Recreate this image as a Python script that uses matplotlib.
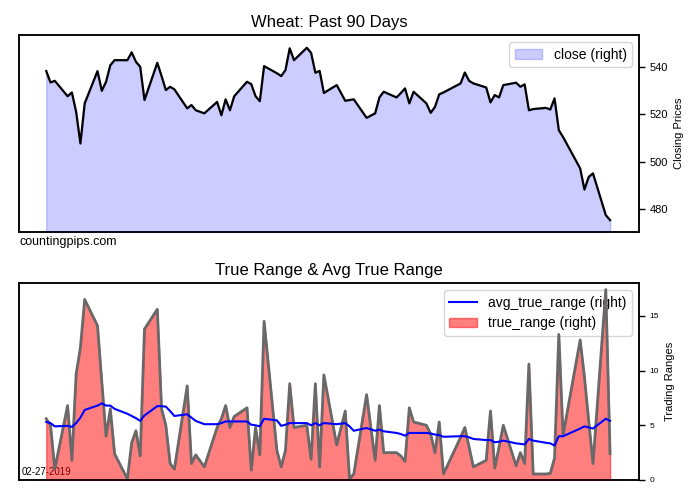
import pandas as pd
import matplotlib
matplotlib.use("Agg")
import matplotlib.pyplot as plt

plt.rcParams["font.family"] = ["Liberation Sans", "DejaVu Sans"]

# trading days shown (weekdays minus exchange holidays)
holidays = ["2018-11-22", "2018-12-25", "2019-01-01", "2019-01-21", "2019-02-18"]
dates = pd.bdate_range("2018-10-17", "2019-02-26", freq="C", holidays=holidays)

close = [
    538.2, 533.4, 534.1,
    527.6, 529.2, 521.0, 507.7, 524.6,
    538.2, 529.9, 533.7, 540.7, 542.8,
    542.8, 546.1, 542.1, 540.0, 526.0,
    541.7, 536.1, 530.2, 531.6, 530.5,
    522.5, 523.9, 521.7, 520.4,
    525.2, 519.6, 526.3, 521.7, 527.6,
    533.7, 532.7, 527.6, 525.5, 540.3,
    537.3, 536.1, 538.6, 547.8, 542.8,
    548.0, 545.9, 537.5, 538.3, 529.0,
    532.3, 525.7, 526.0, 526.3,
    518.5, 520.4, 527.1, 529.5,
    527.1, 528.9, 530.9, 524.6, 529.5,
    524.6, 520.6, 523.1, 528.4, 529.2,
    533.0, 537.6, 534.1, 533.0,
    531.3, 525.0, 528.1, 527.1, 532.3,
    533.3, 531.6, 532.6, 521.7, 522.2,
    522.7, 522.0, 526.7, 513.3, 510.4,
    497.2, 488.3, 493.6, 495.1,
    477.5, 475.4,
]

true_range = [
    5.6, 5.0, 1.0,
    6.8, 1.8, 9.7, 12.1, 16.5,
    14.1, 9.0, 4.0, 6.5, 2.4,
    0.1, 3.4, 4.5, 2.2, 13.8,
    15.6, 6.5, 5.0, 1.5, 1.0,
    8.6, 1.5, 2.3, 1.2,
    4.8, 5.6, 6.8, 4.8, 5.8,
    6.6, 0.9, 4.8, 2.3, 14.5,
    2.7, 1.2, 2.7, 8.8, 4.8,
    5.0, 1.9, 8.8, 1.2, 9.6,
    3.2, 6.3, 0.1, 0.55,
    7.8, 1.8, 6.8, 2.5,
    2.5, 2.2, 1.7, 6.6, 5.3,
    5.0, 4.2, 2.5, 5.3, 0.55,
    3.9, 4.8, 3.0, 1.2,
    1.8, 6.3, 1.1, 3.0, 5.0,
    1.3, 2.5, 1.5, 10.6, 0.55,
    0.55, 0.6, 2.0, 13.3, 4.1,
    12.8, 9.4, 5.4, 1.5,
    17.4, 2.4,
]

avg_true_range = [
    5.3, 5.2, 4.9,
    4.95, 4.85, 5.2, 5.7, 6.4,
    6.8, 7.0, 6.8, 6.8, 6.5,
    6.05, 5.85, 5.65, 5.4, 5.9,
    6.75, 6.75, 6.7, 6.3, 5.85,
    6.0, 5.7, 5.4, 5.1,
    5.1, 5.2, 5.35, 5.35, 5.35,
    5.35, 5.05, 5.0, 4.9, 5.6,
    5.45, 4.95, 5.05, 5.2, 5.2,
    5.2, 5.0, 5.2, 5.0, 5.2,
    5.1, 5.2, 4.9, 4.5,
    4.75, 4.5, 4.6, 4.45,
    4.3, 4.2, 4.05, 4.3, 4.3,
    4.3, 4.25, 4.15, 4.1, 3.95,
    4.0, 4.0, 3.9, 3.75,
    3.65, 3.65, 3.45, 3.5, 3.6,
    3.35, 3.3, 3.25, 3.75, 3.6,
    3.4, 3.35, 3.15, 4.0, 4.0,
    4.7, 4.9, 4.8, 4.7,
    5.6, 5.4,
]

price_ticks = [480, 500, 520, 540]
range_ticks = [0, 5, 10, 15]
price_lim = (470.4, 553.4)
range_lim = (0, 18.0)
x_lim = (dates[0] - pd.Timedelta(days=6.4), dates[-1] + pd.Timedelta(days=6.8))


def style_axes(ax, ax_r):
    ax.yaxis.set_visible(False)
    ax.tick_params(axis="x", bottom=False, labelbottom=False)
    ax.set_xlim(x_lim)
    ax_r.set_xlim(x_lim)
    for a in (ax, ax_r):
        for sp in a.spines.values():
            sp.set_color("black")
            sp.set_linewidth(1.1)
    ax_r.tick_params(axis="y", direction="out", length=4, width=1, colors="black")


fig = plt.figure(figsize=(7, 5), dpi=100)

# top: closing prices
ax1 = fig.add_axes([0.027, 0.536, 0.886, 0.394])
ax1r = ax1.twinx()
fill1 = ax1r.fill_between(dates, close, price_lim[0], color="blue", alpha=0.2)
ax1r.plot(dates, close, color="black", lw=1.6)
ax1r.set_ylim(price_lim)
ax1r.set_yticks(price_ticks)
ax1r.tick_params(axis="y", labelsize=8)
ax1r.set_ylabel("Closing Prices", fontsize=8)
style_axes(ax1, ax1r)
ax1.set_title("Wheat: Past 90 Days", fontsize=12)
ax1.legend([fill1], ["close (right)"], loc="upper right", fontsize=10)
fig.text(0.028, 0.527, "countingpips.com", fontsize=9, va="top", ha="left")

# bottom: true range & average true range
ax2 = fig.add_axes([0.027, 0.04, 0.886, 0.394])
ax2r = ax2.twinx()
fill2 = ax2r.fill_between(dates, true_range, 0, color="red", alpha=0.5)
ax2r.plot(dates, true_range, color="dimgray", lw=2)
line2, = ax2r.plot(dates, avg_true_range, color="blue", lw=1.5)
ax2r.set_ylim(range_lim)
ax2r.set_yticks(range_ticks)
ax2r.tick_params(axis="y", labelsize=6)
ax2r.set_ylabel("Trading Ranges", fontsize=8)
style_axes(ax2, ax2r)
ax2.set_title("True Range & Avg True Range", fontsize=12)
ax2.legend([line2, fill2], ["avg_true_range (right)", "true_range (right)"],
           loc="upper right", fontsize=10)
ax2.text(0.005, 0.017, "02-27-2019", fontsize=7, transform=ax2.transAxes,
         ha="left", va="bottom")

fig.savefig("out.png", dpi=100)
